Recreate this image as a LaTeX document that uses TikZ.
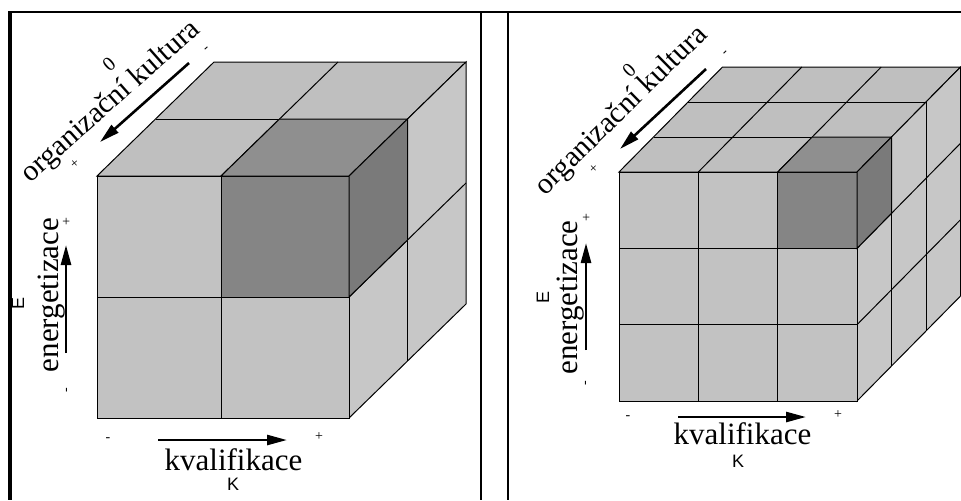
\documentclass[tikz,border=0pt]{standalone}
\usepackage{fontspec}
\setmainfont{Liberation Serif}
\newfontfamily\axsans{Liberation Sans}
\usetikzlibrary{arrows.meta}

\begin{document}
\begin{tikzpicture}[x=0.5pt,y=-0.5pt,line width=0.5pt,
  cubeface/.style={fill=black!24,draw=black},
  cubetop/.style={fill=black!25,draw=black},
  cubeside/.style={fill=black!22,draw=black},
  hotface/.style={fill=black!48,draw=black},
  hottop/.style={fill=black!44,draw=black},
  hotside/.style={fill=black!52,draw=black},
  axisarrow/.style={-{Triangle[length=10pt,width=5pt]},line width=1.3pt},
  axislabel/.style={font=\fontsize{15.5}{18}\selectfont,inner sep=0pt},
  slantlabel/.style={font=\fontsize{14.8}{18}\selectfont,inner sep=0pt},
  axisletter/.style={font=\axsans\fontsize{9}{10}\selectfont,inner sep=0pt},
  axissign/.style={font=\scriptsize,inner sep=0pt},
  zerolabel/.style={font=\fontsize{10}{12}\selectfont,inner sep=0pt}]
\useasboundingbox (0,0) rectangle (961,500);

% frame
\draw[line width=1pt] (8,12) -- (961,12);
\draw[line width=1.7pt] (10,12) -- (10,500);
\draw[line width=1.1pt] (481,12) -- (481,500);
\draw[line width=1.1pt] (508,12) -- (508,500);

% left cube 2x2x2
\draw[cubetop] (97,176) -- (349,176) -- (466,62) -- (214,62) -- cycle;
\draw[cubeside] (349,176) -- (466,62) -- (466,304) -- (349,418) -- cycle;
\draw[cubeface] (97,176) rectangle (349,418);
\draw (221,176) -- (221,418);
\draw (97,297) -- (349,297);
\draw (155.5,119) -- (407.5,119);
\draw (221,176) -- (338,62);
\draw (407.5,119) -- (407.5,361);
\draw (349,297) -- (466,183);
\draw[hotface] (221,176) rectangle (349,297);
\draw[hottop] (221,176) -- (349,176) -- (407.5,119) -- (279.5,119) -- cycle;
\draw[hotside] (349,176) -- (407.5,119) -- (407.5,240) -- (349,297) -- cycle;

% right cube 3x3x3
\draw[cubetop] (619,172) -- (857,172) -- (960.5,67) -- (722.5,67) -- cycle;
\draw[cubeside] (857,172) -- (960.5,67) -- (960.5,296) -- (857,401) -- cycle;
\draw[cubeface] (619,172) rectangle (857,401);
\draw (698.3,172) -- (698.3,401);
\draw (777.7,172) -- (777.7,401);
\draw (619,248.3) -- (857,248.3);
\draw (619,324.7) -- (857,324.7);
\draw (653.5,137) -- (891.5,137);
\draw (688,102) -- (926,102);
\draw (698.3,172) -- (801.8,67);
\draw (777.7,172) -- (881.2,67);
\draw (891.5,137) -- (891.5,366);
\draw (926,102) -- (926,331);
\draw (857,248.3) -- (960.5,143.3);
\draw (857,324.7) -- (960.5,219.7);
\draw[hotface] (777.7,172) rectangle (857,248.3);
\draw[hottop] (777.7,172) -- (857,172) -- (891.5,137) -- (812.2,137) -- cycle;
\draw[hotside] (857,172) -- (891.5,137) -- (891.5,213.3) -- (857,248.3) -- cycle;

% left labels
\node[slantlabel,rotate=41.5] (orgL) at (111,102) {organizační kultura};
\node[zerolabel,rotate=41.5] (zeroL) at (109,64) {0};
\node[axissign,rotate=41.5] (orgLp) at (75,164) {+};
\node[axissign,rotate=41.5] (orgLm) at (207,50) {-};
\coordinate (orgLa) at (189,63);
\coordinate (orgLb) at (100,142);
\draw[axisarrow] (orgLa) -- (orgLb);

\node[axislabel,rotate=90] (enL) at (51.5,295) {energetizace};
\node[axisletter,rotate=90] (eL) at (18,303) {E};
\node[axissign,rotate=90] (enLp) at (67,222) {+};
\node[axissign,rotate=90] (enLm) at (68,390) {-};
\coordinate (enLa) at (66,353);
\coordinate (enLb) at (66,245);
\draw[axisarrow] (enLa) -- (enLb);

\node[axislabel] (kvL) at (233.5,460) {kvalifikace};
\node[axisletter] (kL) at (233,484) {K};
\node[axissign] (kvLm) at (108,440) {-};
\node[axissign] (kvLp) at (319,437) {+};
\coordinate (kvLa) at (158,440);
\coordinate (kvLb) at (287,440);
\draw[axisarrow] (kvLa) -- (kvLb);

% right labels
\node[slantlabel,rotate=44.5] (orgR) at (622,111) {organizační kultura};
\node[zerolabel,rotate=44.5] (zeroR) at (629,70) {0};
\node[axissign,rotate=44.5] (orgRp) at (594,169) {+};
\node[axissign,rotate=44.5] (orgRm) at (726,53) {-};
\coordinate (orgRa) at (706,69);
\coordinate (orgRb) at (620,149);
\draw[axisarrow] (orgRa) -- (orgRb);

\node[axislabel,rotate=90] (enR) at (570.5,297.5) {energetizace};
\node[axisletter,rotate=90] (eR) at (543,297) {E};
\node[axissign,rotate=90] (enRp) at (587,218) {+};
\node[axissign,rotate=90] (enRm) at (587,383) {-};
\coordinate (enRa) at (586,350);
\coordinate (enRb) at (586,243);
\draw[axisarrow] (enRa) -- (enRb);

\node[axislabel] (kvR) at (742.5,434) {kvalifikace};
\node[axisletter] (kR) at (738,461) {K};
\node[axissign] (kvRm) at (628,418) {-};
\node[axissign] (kvRp) at (838,415) {+};
\coordinate (kvRa) at (678,417);
\coordinate (kvRb) at (806,417);
\draw[axisarrow] (kvRa) -- (kvRb);

\end{tikzpicture}
\end{document}
